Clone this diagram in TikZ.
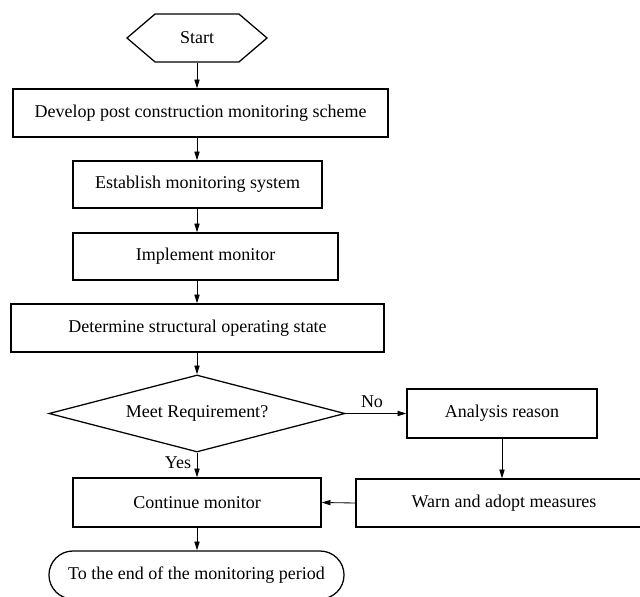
\documentclass[tikz,border=0pt]{standalone}
\usepackage{fontspec}
\setmainfont{Liberation Serif}
\usepackage{tikz}
\usetikzlibrary{arrows.meta, shapes.geometric, shapes.misc, shapes.symbols}

\begin{document}
\begin{tikzpicture}[
        font=\fontsize{12.8}{15}\selectfont,
        >={Triangle[length=2.2mm, width=1.3mm]},
        x=0.025cm, y=-0.025cm,
        % flowchart conventions: boxes 0.9pt, connectors 0.6pt
        proc/.style ={draw, line width=0.9pt, rectangle, inner sep=0pt},
        term/.style ={draw, line width=0.9pt, signal, signal to=west and east,
                      signal from=nowhere, signal pointer angle=81, inner sep=0pt,
                      minimum width=3.5cm, minimum height=1.2cm},
        endt/.style ={draw, line width=0.9pt, rounded rectangle, inner sep=0pt,
                      minimum width=7.375cm, minimum height=1.2cm},
        dec/.style  ={draw, line width=0.9pt, diamond, aspect=3.8, inner sep=0pt,
                      minimum width=7.4cm, minimum height=1.925cm},
        flow/.style ={->, line width=0.6pt},
        lbl/.style  ={inner sep=1pt}
    ]
    \useasboundingbox (0,0) rectangle (640,597);
    \clip (0,0) rectangle (640,597);

    %% ===== main column =====
    \node[term] (start) at (197,38) {Start};
    \node[proc, minimum width=9.375cm, minimum height=1.2cm] (dev) at (200.5,113)
        {Develop post construction monitoring scheme};
    \node[proc, minimum width=6.225cm, minimum height=1.175cm] (est) at (197.5,184.5)
        {Establish monitoring system};
    \node[proc, minimum width=6.625cm, minimum height=1.175cm] (impl) at (205.5,256.5)
        {Implement monitor};
    \node[proc, minimum width=9.325cm, minimum height=1.2cm] (det) at (197.5,328)
        {Determine structural operating state};
    \node[dec] (meet) at (197,413.5) {Meet Requirement?};
    \node[proc, minimum width=6.2cm, minimum height=1.225cm] (cont) at (197,502.5)
        {Continue monitor};
    \node[endt] (fin) at (196.5,575) {To the end of the monitoring period};

    %% ===== right branch =====
    \node[proc, minimum width=4.75cm, minimum height=1.225cm] (ana) at (502,413.5)
        {Analysis reason};
    \node[proc, minimum width=7.4cm, minimum height=1.2cm] (warn) at (504,503)
        {Warn and adopt measures};

    %% ===== connectors =====
    \draw[flow] (start.south) -- (start.south |- dev.north);
    \draw[flow] (start.south |- dev.south) -- (start.south |- est.north);
    \draw[flow] (start.south |- est.south) -- (start.south |- impl.north);
    \draw[flow] (start.south |- impl.south) -- (start.south |- det.north);
    \draw[flow] (start.south |- det.south) -- (meet.north);
    \draw[flow] (meet.south) -- (cont.north);
    \draw[flow] (cont.south) -- (cont.south |- fin.north);
    \draw[flow] (meet.east) -- (meet.east -| ana.west);
    \draw[flow] (ana.south) -- (ana.south |- warn.north);
    \draw[flow] (warn.west) -- (cont.east);

    \node[lbl] (no) at (372,402) {No};
    \node[lbl] (yes) at (178,463) {Yes};

\end{tikzpicture}
\end{document}
